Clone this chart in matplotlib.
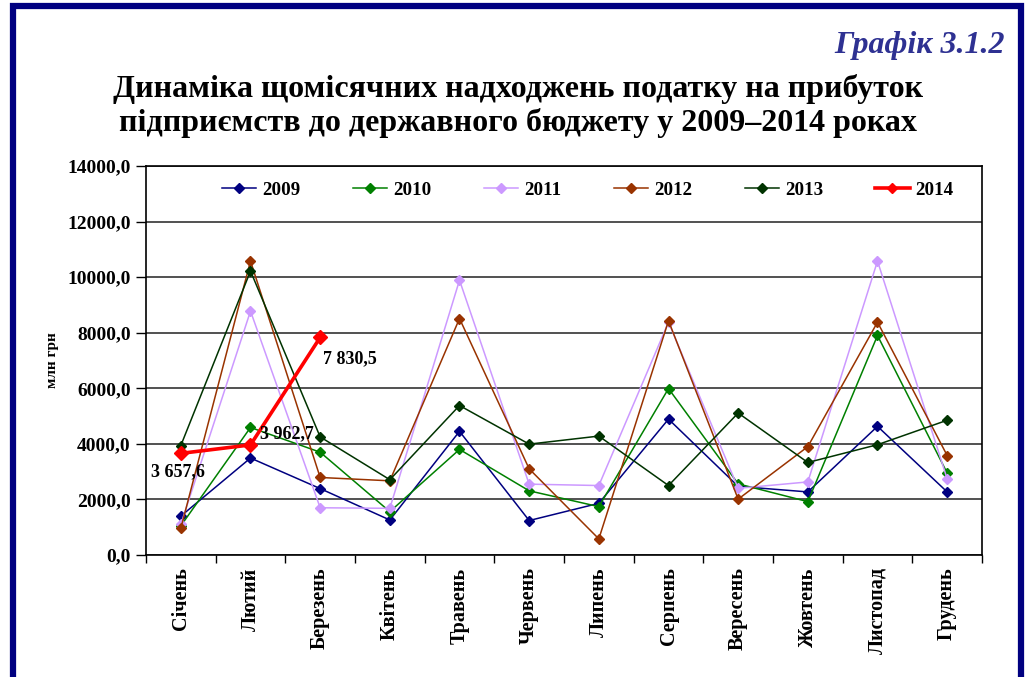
import matplotlib
matplotlib.use("Agg")
import matplotlib.pyplot as plt
from matplotlib.patches import Rectangle

MONTHS = ["Січень", "Лютий", "Березень", "Квітень", "Травень", "Червень",
          "Липень", "Серпень", "Вересень", "Жовтень", "Листопад", "Грудень"]

Y2009 = [1400, 3490, 2390, 1260, 4450, 1240, 1860, 4890, 2470, 2270, 4630, 2270]
Y2010 = [1050, 4590, 3700, 1560, 3800, 2310, 1740, 5990, 2560, 1920, 7900, 2950]
Y2011 = [1100, 8780, 1700, 1680, 9890, 2550, 2500, 8380, 2400, 2630, 10580, 2740]
Y2012 = [960, 10580, 2790, 2670, 8510, 3100, 580, 8430, 2010, 3900, 8380, 3580]
Y2013 = [3940, 10220, 4250, 2710, 5380, 3990, 4280, 2500, 5110, 3330, 3970, 4850]
Y2014 = [3657.6, 3962.7, 7830.5]
Y2014_LABELS = ["3 657,6", "3 962,7", "7 830,5"]

YTICKS = [0, 2000, 4000, 6000, 8000, 10000, 12000, 14000]

SERIES = [
    ("2009", Y2009, "#000080"),
    ("2010", Y2010, "#008000"),
    ("2011", Y2011, "#CC99FF"),
    ("2012", Y2012, "#993300"),
    ("2013", Y2013, "#003300"),
]

plt.rcParams["font.family"] = ["Liberation Serif", "DejaVu Serif"]
plt.rcParams["font.weight"] = "bold"

fig = plt.figure(figsize=(10.26, 6.77), dpi=100)

# blue page frame
fig.patches.append(Rectangle((12.5 / 1026, -0.05), (1020.5 - 12.5) / 1026, 1.05 - 6.5 / 677,
                             transform=fig.transFigure, fill=False,
                             edgecolor="#000080", linewidth=4.5))

fig.text(1005 / 1026, 1 - 45 / 677, "Графік 3.1.2", ha="right", va="center",
         fontsize=23, style="italic", fontweight="bold", color="#2E3192")
fig.text(518 / 1026, 1 - 106 / 677,
         "Динаміка щомісячних надходжень податку на прибуток\n"
         "підприємств до державного бюджету у 2009–2014 роках",
         ha="center", va="center", fontsize=23, fontweight="bold",
         linespacing=1.2)

ax = fig.add_axes([146 / 1026, 1 - 555 / 677, (982 - 146) / 1026, (555 - 166) / 677])
x = list(range(len(MONTHS)))

for name, vals, color in SERIES:
    ax.plot(x, vals, color=color, linewidth=1.1, marker="D", markersize=5,
            markeredgecolor=color, label=name, zorder=3)

ax.plot(x[:len(Y2014)], Y2014, color="#FF0000", linewidth=2.6, marker="D",
        markersize=7, label="2014", zorder=4)

offsets = [(-2, -13), (7, 8), (2, -15)]
aligns = [("center", "center"), ("left", "center"), ("left", "center")]
for i, (lbl, off, al) in enumerate(zip(Y2014_LABELS, offsets, aligns)):
    ax.annotate(lbl, (x[i], Y2014[i]), xytext=off, textcoords="offset points",
                ha=al[0], va=al[1], fontsize=13, fontweight="bold", zorder=5)

ax.set_xlim(-0.5, len(MONTHS) - 0.5)
ax.set_ylim(0, 14000)
ax.set_yticks(YTICKS)
ax.set_yticklabels([f"{v:.1f}".replace(".", ",") for v in YTICKS],
                   fontsize=14, fontweight="bold")
ax.yaxis.grid(True, color="#333333", linewidth=1.2)
ax.set_axisbelow(True)

ax.set_xticks(x)
ax.set_xticklabels(MONTHS, rotation=90, fontsize=14.5, fontweight="bold")
ax.tick_params(axis="x", which="major", length=0, pad=9)
ax.set_xticks([i + 0.5 for i in range(-1, len(MONTHS))], minor=True)
ax.tick_params(axis="x", which="minor", length=6, width=1, direction="out")
ax.tick_params(axis="y", length=7, width=1, direction="out", pad=4)

for s in ax.spines.values():
    s.set_color("black")
    s.set_linewidth(1.2)

ax.set_ylabel("млн грн", fontsize=11, fontweight="bold")
ax.yaxis.set_label_coords(-0.104, 0.5)

leg = ax.legend(loc="center", bbox_to_anchor=(588 / 1026, 1 - 190 / 677),
                bbox_transform=fig.transFigure, ncol=6, frameon=False,
                handlelength=1.8, handletextpad=0.32,
                columnspacing=2.75, prop={"weight": "bold", "size": 13.7})
for h in leg.legend_handles:
    h.set_markersize(5)

fig.savefig("out.png", dpi=100)
